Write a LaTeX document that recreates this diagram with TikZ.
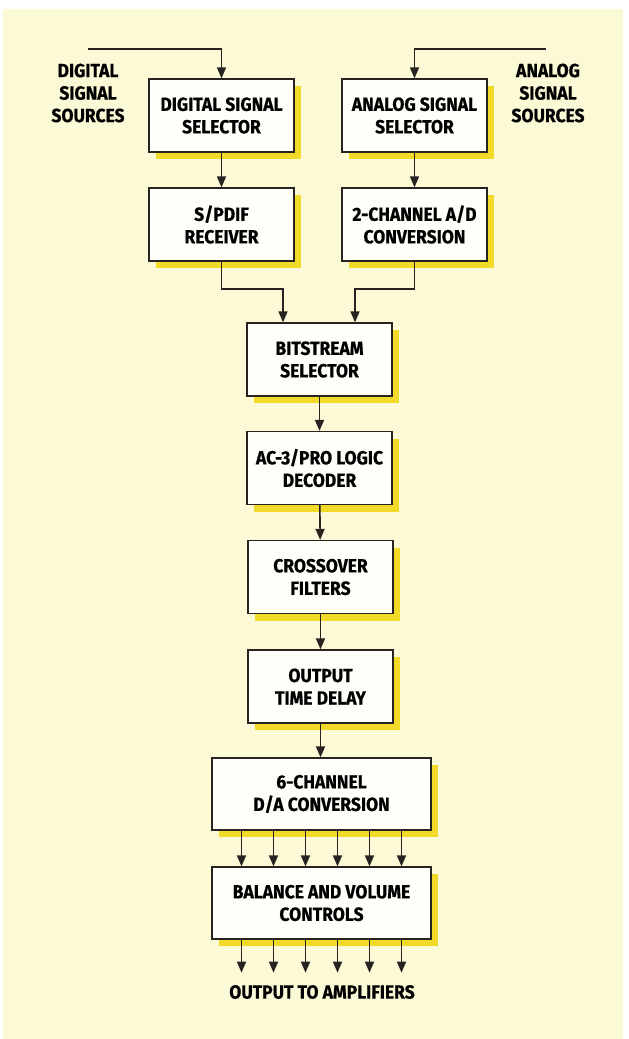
\documentclass[tikz,border=0pt]{standalone}
\usepackage{fontspec}
\newfontfamily\lblfont{Fira Sans}[FakeStretch=0.92,FakeBold=0.6]
\usetikzlibrary{arrows.meta,calc}
\definecolor{bgcream}{RGB}{252,249,215}
\definecolor{shadowyel}{RGB}{242,218,40}
\definecolor{boxfill}{RGB}{255,255,250}
\definecolor{linecol}{RGB}{40,34,32}
\tikzset{
  blk/.style={draw=linecol, line width=1.3pt, fill=boxfill, minimum width=145pt, minimum height=73pt,
    align=center, inner sep=0pt, font=\lblfont\bfseries\fontsize{19}{22.5}\selectfont},
  wide/.style={minimum width=219pt, minimum height=72pt},
  arr/.style={draw=linecol, line width=1.6pt, -{Triangle[length=11pt,width=9pt]}},
  lbl/.style={align=center, inner sep=0pt, font=\lblfont\bfseries\fontsize{19}{22.5}\selectfont},
}
\begin{document}
\begin{tikzpicture}[x=1pt,y=-1pt]
\useasboundingbox (0,0) rectangle (629,1039);
\fill[white] (0,0) rectangle (629,1039);
\fill[bgcream] (3,9) rectangle (623,1039);

% box positions
\path
  (221.5,115.5) coordinate (p1)
  (414.5,115.5) coordinate (p2)
  (221.5,224.5) coordinate (p3)
  (414.5,224.5) coordinate (p4)
  (319.5,359.5) coordinate (p5)
  (319.5,468) coordinate (p6)
  (320.5,577) coordinate (p7)
  (320.5,686.5) coordinate (p8)
  (321.5,794) coordinate (p9)
  (321.5,903) coordinate (p10);

% shadows
\foreach \p/\s in {p1/,p2/,p3/,p4/,p5/,p6/,p7/,p8/,p9/wide,p10/wide}{
  \node[blk,\s,draw=none,fill=shadowyel] at ($(\p)+(7,7)$) {};
}

\node[blk] (dss) at (p1) {DIGITAL SIGNAL\\SELECTOR};
\node[blk] (ass) at (p2) {ANALOG SIGNAL\\SELECTOR};
\node[blk] (spdif) at (p3) {S/PDIF\\RECEIVER};
\node[blk] (adc) at (p4) {2-CHANNEL A/D\\CONVERSION};
\node[blk] (bits) at (p5) {BITSTREAM\\SELECTOR};
\node[blk] (ac3) at (p6) {AC-3/PRO LOGIC\\DECODER};
\node[blk] (cross) at (p7) {CROSSOVER\\FILTERS};
\node[blk] (otd) at (p8) {OUTPUT\\TIME DELAY};
\node[blk,wide] (dac) at (p9) {6-CHANNEL\\D/A CONVERSION};
\node[blk,wide] (bal) at (p10) {BALANCE AND VOLUME\\CONTROLS};

% labels
\node[lbl] (dsrc) at (88,93) {DIGITAL\\SIGNAL\\SOURCES};
\node[lbl] (asrc) at (548,93) {ANALOG\\SIGNAL\\SOURCES};
\node[lbl] (outl) at (322,992) {OUTPUT TO AMPLIFIERS};

% inputs
\coordinate (din) at (88,49);
\coordinate (ain) at (546,49);
\draw[arr] (din) -| (dss.north);
\draw[arr] (ain) -| (ass.north);

\draw[arr] (dss) -- (spdif);
\draw[arr] (ass) -- (adc);

\coordinate (j1) at (283,289);
\coordinate (j2) at (355,289);
\draw[arr] (spdif.south) |- (j1) -- (bits.north -| j1);
\draw[arr] (adc.south) |- (j2) -- (bits.north -| j2);

\draw[arr] (bits) -- (ac3);
\draw[arr] (ac3) -- (cross);
\draw[arr] (cross) -- (otd);
\draw[arr] (otd.south) -- (dac.north -| otd.south);

\foreach \i in {0,...,5}{
  \draw[arr] ($(dac.south)+(-80+32*\i,0)$) -- ($(bal.north)+(-80+32*\i,0)$);
  \draw[arr] ($(bal.south)+(-80+32*\i,0)$) -- ($(bal.south)+(-80+32*\i,33)$);
}
\end{tikzpicture}
\end{document}
